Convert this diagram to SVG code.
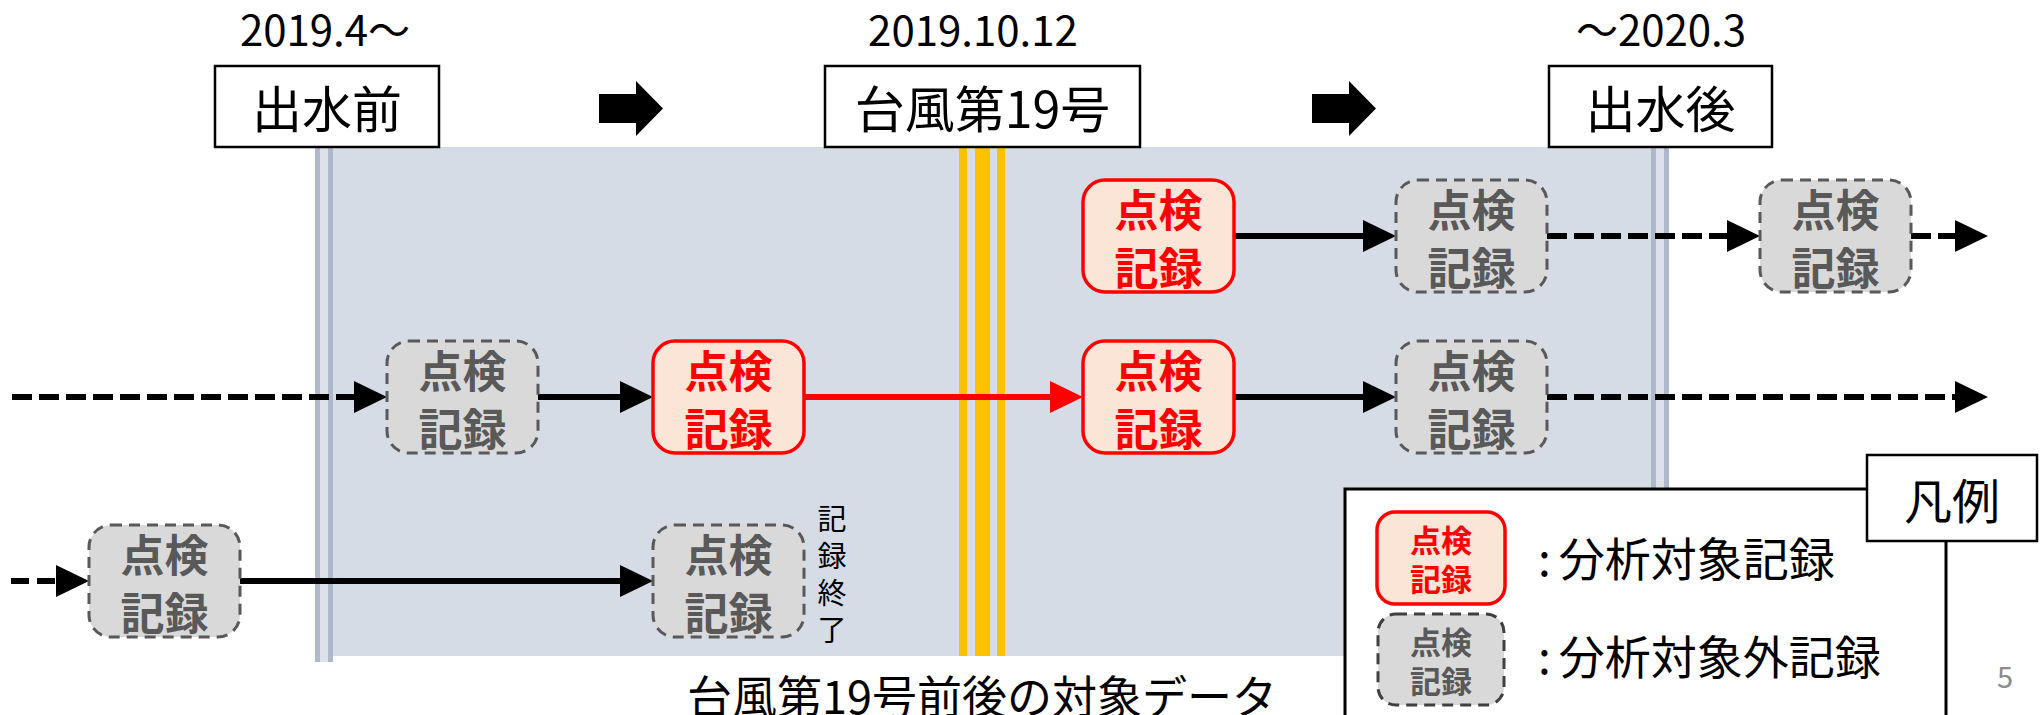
<svg xmlns="http://www.w3.org/2000/svg" width="2044" height="715" viewBox="0 0 2044 715">
<style>
text{font-family:"Noto Sans CJK JP","Noto Sans",sans-serif}
.lbl{font-size:42px;fill:#000;text-anchor:middle}
.hdr rect{fill:#fff;stroke:#000;stroke-width:2.5}
.hdr text{font-size:50px;fill:#000;text-anchor:middle}
.nr rect{fill:#FBE5D6;stroke:#FF0000;stroke-width:3.5}
.nr text{fill:#FF0000;font-weight:bold;font-size:44px;text-anchor:middle}
.ng rect{fill:#D9D9D9;stroke:#595959;stroke-width:3;stroke-dasharray:11 7}
.ng text{fill:#595959;font-weight:bold;font-size:44px;text-anchor:middle}
.c{stroke:#000;stroke-width:6;fill:none}
.d{stroke-dasharray:20 7}
.cr{stroke:#FF0000}
.blue{fill:#ADB9CA}
.yel{fill:#FFC000}
.leg{font-size:46px;fill:#000}
</style>
<defs>
<marker id="ah" markerUnits="userSpaceOnUse" markerWidth="33" markerHeight="32" refX="13" refY="16" orient="auto"><path d="M0,0 L33,16 L0,32 z" fill="#000"/></marker>
<marker id="ahr" markerUnits="userSpaceOnUse" markerWidth="33" markerHeight="32" refX="13" refY="16" orient="auto"><path d="M0,0 L33,16 L0,32 z" fill="#FF0000"/></marker>
</defs>
<rect width="2044" height="715" fill="#fff"/>
<g id="panel">
<rect x="315" y="147" width="1353" height="509" fill="#D6DCE5"/>
<rect x="315" y="147" width="18" height="515" fill="#DDE2EA"/>
<rect class="blue" x="315" y="147" width="5" height="515"/>
<rect class="blue" x="328" y="147" width="5" height="515"/>
<rect x="1651" y="147" width="18" height="515" fill="#DDE2EA"/>
<rect class="blue" x="1651" y="147" width="5" height="515"/>
<rect class="blue" x="1664" y="147" width="5" height="515"/>
<rect class="yel" x="959" y="147" width="8" height="509"/>
<rect class="yel" x="975" y="147" width="15" height="509"/>
<rect class="yel" x="997" y="147" width="8" height="509"/>
</g>
<g id="connectors">
<line class="c" x1="1234" y1="236" x2="1376" y2="236" marker-end="url(#ah)"/>
<line class="c d" x1="1547" y1="236" x2="1740" y2="236" marker-end="url(#ah)"/>
<line class="c d" x1="1911" y1="236" x2="1968" y2="236" marker-end="url(#ah)"/>
<line class="c d" x1="12" y1="397" x2="367" y2="397" marker-end="url(#ah)"/>
<line class="c" x1="538" y1="397" x2="633" y2="397" marker-end="url(#ah)"/>
<line class="c cr" x1="804" y1="397" x2="1063" y2="397" marker-end="url(#ahr)"/>
<line class="c" x1="1234" y1="397" x2="1376" y2="397" marker-end="url(#ah)"/>
<line class="c d" x1="1547" y1="397" x2="1968" y2="397" marker-end="url(#ah)"/>
<line class="c" x1="11" y1="581" x2="69" y2="581" stroke-dasharray="18 8" marker-end="url(#ah)"/>
<line class="c" x1="240" y1="581" x2="633" y2="581" marker-end="url(#ah)"/>
<polygon points="599,94 636,94 636,81 663,108.5 636,136 636,123 599,123" fill="#000"/>
<polygon points="1312,94 1349,94 1349,81 1376,108.5 1349,136 1349,123 1312,123" fill="#000"/>
</g>
<g id="n1" class="nr"><rect x="1083" y="180" width="151" height="112" rx="22"/><text x="1158.5" y="227">点検</text><text x="1158.5" y="285">記録</text></g>
<g id="n2" class="ng"><rect x="1396" y="180" width="151" height="112" rx="22"/><text x="1471.5" y="227">点検</text><text x="1471.5" y="285">記録</text></g>
<g id="n3" class="ng"><rect x="1760" y="180" width="151" height="112" rx="22"/><text x="1835.5" y="227">点検</text><text x="1835.5" y="285">記録</text></g>
<g id="n4" class="ng"><rect x="387" y="341" width="151" height="112" rx="22"/><text x="462.5" y="388">点検</text><text x="462.5" y="446">記録</text></g>
<g id="n5" class="nr"><rect x="653" y="341" width="151" height="112" rx="22"/><text x="728.5" y="388">点検</text><text x="728.5" y="446">記録</text></g>
<g id="n6" class="nr"><rect x="1083" y="341" width="151" height="112" rx="22"/><text x="1158.5" y="388">点検</text><text x="1158.5" y="446">記録</text></g>
<g id="n7" class="ng"><rect x="1396" y="341" width="151" height="112" rx="22"/><text x="1471.5" y="388">点検</text><text x="1471.5" y="446">記録</text></g>
<g id="n8" class="ng"><rect x="89" y="525" width="151" height="112" rx="22"/><text x="164.5" y="572">点検</text><text x="164.5" y="630">記録</text></g>
<g id="n9" class="ng"><rect x="653" y="525" width="151" height="112" rx="22"/><text x="728.5" y="572">点検</text><text x="728.5" y="630">記録</text></g>
<text id="end-note" x="832" y="504" font-size="29" letter-spacing="8" writing-mode="vertical-rl" style="writing-mode:vertical-rl">記録終了</text>
<g id="dates">
<text class="lbl" x="325" y="46">2019.4～</text>
<text class="lbl" x="973" y="46">2019.10.12</text>
<text class="lbl" x="1661" y="46">～2020.3</text>
</g>
<g id="h1" class="hdr"><rect x="215" y="66" width="224" height="81"/><text x="327" y="128">出水前</text></g>
<g id="h2" class="hdr"><rect x="825" y="66" width="315" height="81"/><text x="982.5" y="128">台風第19号</text></g>
<g id="h3" class="hdr"><rect x="1549" y="66" width="223" height="81"/><text x="1660.5" y="128">出水後</text></g>
<text id="caption" x="982" y="714" font-size="45" text-anchor="middle">台風第19号前後の対象データ</text>
<g id="legend">
<rect x="1345" y="489" width="601" height="240" fill="#fff" stroke="#000" stroke-width="3"/>
<g id="leg-r" class="nr"><rect x="1377" y="512" width="128" height="92" rx="18"/><text x="1441" y="552" style="font-size:31px"><tspan x="1441" y="552">点検</tspan><tspan x="1441" y="591">記録</tspan></text></g>
<g id="leg-g" class="ng"><rect x="1378" y="614" width="126" height="91" rx="18" style="stroke:#404040"/><text x="1441" y="654" style="font-size:31px"><tspan x="1441" y="654">点検</tspan><tspan x="1441" y="693">記録</tspan></text></g>
<text class="leg" x="1538" y="576">:<tspan dx="8">分析対象記録</tspan></text>
<text class="leg" x="1538" y="674">:<tspan dx="8">分析対象外記録</tspan></text>
<g id="leg-title" class="hdr"><rect x="1867" y="455" width="170" height="86"/><text x="1952" y="519" style="font-size:48px">凡例</text></g>
</g>
<text id="page" x="2005" y="688" font-size="29" fill="#8B8B8B" text-anchor="middle" font-family="Liberation Sans, sans-serif">5</text>
</svg>
